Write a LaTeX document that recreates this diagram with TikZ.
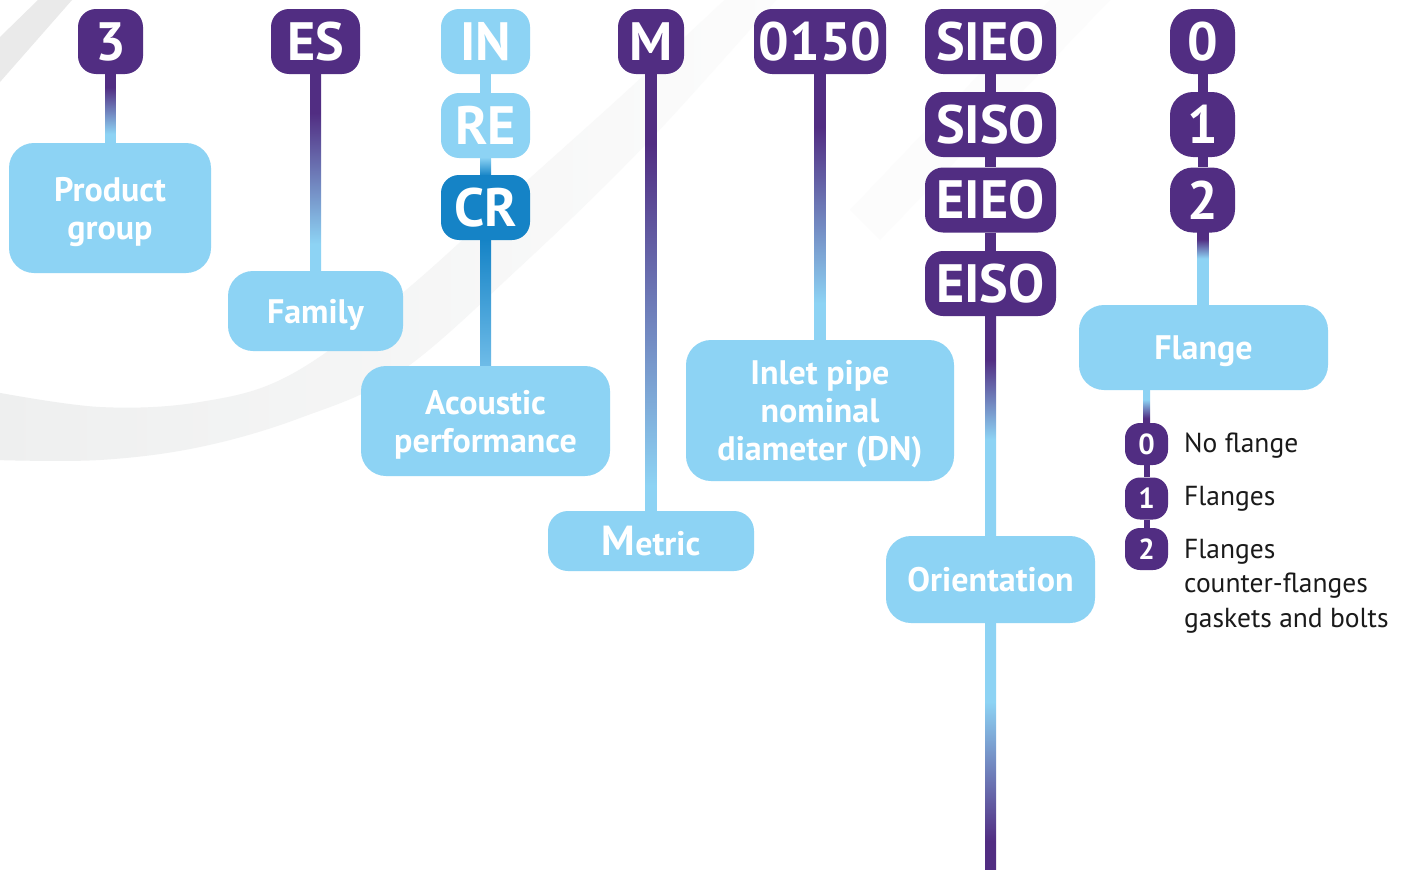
\documentclass[tikz,border=0pt]{standalone}
\usepackage{fontspec}
\setmainfont{PT Sans}
\usetikzlibrary{calc}
\definecolor{pp}{HTML}{512D82}
\definecolor{lb}{HTML}{8DD3F4}
\definecolor{crb}{HTML}{1583C6}
\definecolor{crl}{HTML}{6FBCE8}
\definecolor{swa}{HTML}{EEEFEF}
\definecolor{swb}{HTML}{FCFCFC}
\definecolor{swc}{HTML}{EAEAEA}
\definecolor{swd}{HTML}{FCFCFC}
\definecolor{legtext}{HTML}{1A1A1A}
\pgfdeclarelayer{bgs}
\pgfdeclarelayer{conn}
\pgfsetlayers{bgs,conn,main}
% vertical shadings: 0bp = bottom, 100bp = top; 25..75bp map onto the path
\pgfdeclareverticalshading{pdown}{100bp}{color(0bp)=(lb); color(32bp)=(lb); color(65bp)=(pp); color(100bp)=(pp)}
\pgfdeclareverticalshading{pdownm}{100bp}{color(0bp)=(lb); color(28bp)=(lb); color(67bp)=(pp); color(100bp)=(pp)}
\pgfdeclareverticalshading{pdownb}{100bp}{color(0bp)=(lb); color(47bp)=(lb); color(65bp)=(pp); color(100bp)=(pp)}
\pgfdeclareverticalshading{pdownc}{100bp}{color(0bp)=(lb); color(57bp)=(lb); color(70bp)=(pp); color(100bp)=(pp)}
\pgfdeclareverticalshading{pup}{100bp}{color(0bp)=(pp); color(31bp)=(pp); color(59bp)=(lb); color(100bp)=(lb)}
\pgfdeclareverticalshading{pupb}{100bp}{color(0bp)=(pp); color(33bp)=(pp); color(60bp)=(lb); color(100bp)=(lb)}
\newcommand\codefont{\fontsize{54}{54}\selectfont\bfseries}
\newcommand\labfont{\fontsize{34}{38}\selectfont\bfseries}
\newcommand\minifont{\fontsize{29}{29}\selectfont\bfseries}
\newcommand\legfont{\fontsize{27.5}{34.5}\selectfont}
\tikzset{
  code/.style={fill=pp, text=white, rounded corners=18pt, minimum height=65pt, inner sep=0pt, font=\codefont},
  digit/.style={code, minimum width=65pt, rounded corners=23pt},
  lab/.style={fill=lb, text=white, rounded corners=25pt, inner sep=0pt, font=\labfont, align=center, text depth=0pt},
  mini/.style={fill=pp, text=white, rounded corners=15pt, minimum width=43pt, minimum height=42pt, inner sep=0pt, font=\minifont},
  legend/.style={anchor=base west, font=\legfont, text=legtext, inner sep=0pt, align=left},
  bar/.style={line width=11pt, pp},
  thinbar/.style={line width=6pt, pp}
}
\begin{document}
\begin{tikzpicture}[x=1pt,y=-1pt]
\useasboundingbox (0,0) rectangle (1409,870);
% ---------- code boxes ----------
\node[code, minimum width=65pt] (c3) at (110.5,41.5) {3};
\node[code, minimum width=89pt] (cES) at (315.5,41.5) {ES};
\node[code, fill=lb, minimum width=89pt] (cIN) at (485.5,41.5) {IN};
\node[code, fill=lb, minimum width=89pt] (cRE) at (485.5,125.5) {RE};
\node[code, fill=crb, minimum width=89pt] (cCR) at (485.5,207.5) {CR};
\node[code, minimum width=66pt] (cM) at (651,41.5) {M};
\node[code, minimum width=132pt] (c0150) at (820,41.5) {0150};
\node[code, minimum width=131pt] (cSIEO) at (990.5,41.5) {SIEO};
\node[code, minimum width=131pt] (cSISO) at (990.5,124.5) {SISO};
\node[code, minimum width=131pt] (cEIEO) at (990.5,200) {EIEO};
\node[code, minimum width=131pt] (cEISO) at (990.5,283.5) {EISO};
\node[digit] (d0) at (1202.5,41.5) {0};
\node[digit] (d1) at (1202.5,124.5) {1};
\node[digit] (d2) at (1202.5,200) {2};
% ---------- label boxes ----------
\node[lab, minimum width=202pt, minimum height=130pt] (lPG) at (110,208) {Product\\group};
\node[lab, minimum width=175pt, minimum height=80pt] (lFam) at (315.5,311) {Family};
\node[lab, minimum width=249pt, minimum height=110pt] (lAc) at (485.5,421) {Acoustic\\performance};
\node[lab, minimum width=206pt, minimum height=60pt, rounded corners=20pt] (lMet) at (651,541) {{\fontsize{42}{42}\selectfont M}etric};
\node[lab, minimum width=268pt, minimum height=141pt] (lIn) at (820,410.5) {Inlet pipe\\nominal\\diameter (DN)};
\node[lab, minimum width=209pt, minimum height=87pt] (lOr) at (990.5,579.5) {Orientation};
\node[lab, minimum width=249pt, minimum height=85pt] (lFl) at (1203.5,347.5) {Flange};
% ---------- flange legend ----------
\node[mini] (m0) at (1146.5,444) {0};
\node[mini] (m1) at (1146.5,498.5) {1};
\node[mini] (m2) at (1146.5,549) {2};
\node[legend] (t0) at (1184,452) {No flange};
\node[legend] (t1) at (1184,505) {Flanges};
\node[legend] (t2) at (1184,627) {Flanges\\counter-flanges\\gaskets and bolts};
\coordinate (orend) at (990.5,871);
\coordinate (fltop) at (m0.north |- lFl.south);
% ---------- connectors ----------
\begin{pgfonlayer}{conn}
\shade[shading=pdown] ($(c3.south)+(-5.5,-1)$) rectangle ($(lPG.north)+(5.5,1)$);
\shade[shading=pdown] ($(cES.south)+(-5.5,-1)$) rectangle ($(lFam.north)+(5.5,1)$);
\fill[lb] ($(cIN.south)+(-5.5,-1)$) rectangle ($(cRE.north)+(5.5,1)$);
\shade[top color=lb, bottom color=crb] ($(cRE.south)+(-5.5,-1)$) rectangle ($(cCR.north)+(5.5,1)$);
\shade[top color=crb, bottom color=crl] ($(cCR.south)+(-5.5,-1)$) rectangle ($(lAc.north)+(5.5,1)$);
\shade[shading=pdownm] ($(cM.south)+(-5.5,-1)$) rectangle ($(lMet.north)+(5.5,1)$);
\shade[shading=pdown] ($(c0150.south)+(-5.5,-1)$) rectangle ($(lIn.north)+(5.5,1)$);
\draw[bar] (cSIEO.south) -- (cSISO.north);
\draw[bar] (cSISO.south) -- (cEIEO.north);
\draw[bar] (cEIEO.south) -- (cEISO.north);
\shade[shading=pdownb] ($(cEISO.south)+(-5.5,-1)$) rectangle ($(lOr.north)+(5.5,1)$);
\shade[shading=pup] ($(lOr.south)+(-5.5,-1)$) rectangle ($(orend)+(5.5,0)$);
\draw[bar, line width=10pt] (d0.south) -- (d1.north);
\draw[bar, line width=10pt] (d1.south) -- (d2.north);
\shade[shading=pdownc] ($(d2.south)+(-5,-1)$) rectangle ($(lFl.north)+(5,1)$);
\shade[shading=pupb] ($(fltop)+(-3.5,-1)$) rectangle ($(m0.north)+(3.5,1)$);
\draw[thinbar] (m0.south) -- (m1.north);
\draw[thinbar] (m1.south) -- (m2.north);
\end{pgfonlayer}
% ---------- background swooshes ----------
\begin{pgfonlayer}{bgs}
\fill[white] (0,0) rectangle (1409,870);
\shade[left color=swa, right color=swb]
  plot[smooth, tension=0.6] coordinates {(-5,392) (100,407) (200,402) (290,375) (400,295) (520,187) (630,88) (735,-10)}
  -- plot[smooth, tension=0.6] coordinates {(785,-10) (650,140) (520,267) (400,372) (300,418) (200,447) (100,460) (-5,460)}
  -- cycle;
\fill[swc] (0,37) -- (38,0) -- (72,0) -- (0,82) -- cycle;
\fill[swd] (850,210) -- (1050,0) -- (1110,0) -- (880,240) -- cycle;
\end{pgfonlayer}
\end{tikzpicture}
\end{document}
